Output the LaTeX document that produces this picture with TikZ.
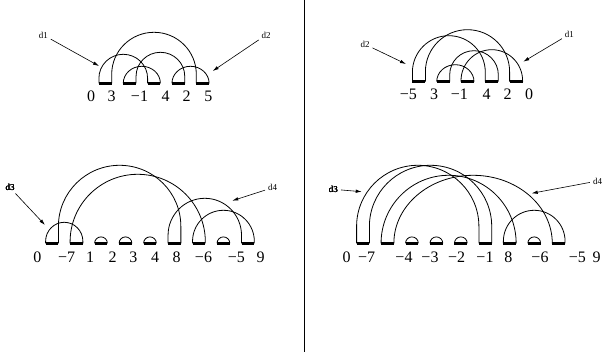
\documentclass[tikz,border=0pt]{standalone}
\usepackage{fontspec}
\setmainfont{Liberation Serif}
\usetikzlibrary{calc,arrows.meta}

\tikzset{
  blackedge/.style={line width=3.2pt},
  grayedge/.style={line width=0.8pt},
  num/.style={font=\fontsize{16}{16}\selectfont,inner sep=0pt,anchor=base},
  dlabel/.style={font=\fontsize{9}{9}\selectfont,inner sep=1pt},
  pointer/.style={line width=0.6pt,shorten <=2pt,-{Latex[length=6pt,width=3.5pt]}}
}

% gray edge from #1 to #2: straight leg of #3, then half ellipse of height #4
\newcommand\grayarc[4]{%
  \draw[grayedge] let \p1=(#1), \p2=(#2) in (#1) -- ++(0,#3)
    arc[start angle=180,end angle=0,x radius={0.5*(\x2-\x1)},y radius=#4pt] -- (#2);}

\begin{document}
\begin{tikzpicture}[x=1pt,y=1pt]
\useasboundingbox (0,0) rectangle (605,358);
\draw[line width=0.8pt] (304.5,358) -- (304.5,6);

% top left: 0 3 -1 4 2 5
\foreach \i in {1,...,5} {
  \pgfmathsetmacro\cx{105.3+24.35*(\i-1)}
  \coordinate (tl\i-l) at (\cx-6.4,274.7);
  \coordinate (tl\i-r) at (\cx+6.4,274.7);
  \draw[blackedge] (tl\i-l) -- (tl\i-r);
}
\foreach \t/\x [count=\i] in {0/91,3/111.7,−1/139.5,4/165.7,2/186.7,5/208.3}
  \node[num] (tl-n\i) at (\x,256.3) {\t};
\grayarc{tl1-l}{tl3-l}{5}{24}
\grayarc{tl1-r}{tl5-l}{9}{42}
\grayarc{tl2-l}{tl3-r}{0}{17}
\grayarc{tl2-r}{tl4-r}{7}{24}
\grayarc{tl4-l}{tl5-r}{0}{17}
\node[dlabel] (tl-d1) at (43.3,323) {d1};
\node[dlabel] (tl-d2) at (266,323) {d2};
\coordinate (tl-d1tip) at (99,292);
\coordinate (tl-d2tip) at (212.7,287);
\draw[pointer] (tl-d1) -- (tl-d1tip);
\draw[pointer] (tl-d2) -- (tl-d2tip);

% top right: -5 3 -1 4 2 0
\foreach \i in {1,...,5} {
  \pgfmathsetmacro\cx{418.9+24.3*(\i-1)}
  \coordinate (tr\i-l) at (\cx-6.5,276.3);
  \coordinate (tr\i-r) at (\cx+6.5,276.3);
  \draw[blackedge] (tr\i-l) -- (tr\i-r);
}
\foreach \t/\x [count=\i] in {−5/408.3,3/434,−1/459.3,4/486.7,2/507.7,0/529}
  \node[num] (tr-n\i) at (\x,258.7) {\t};
\grayarc{tr1-l}{tr4-l}{9.5}{36.5}
\grayarc{tr1-r}{tr5-l}{10}{42}
\grayarc{tr2-r}{tr4-r}{7}{24}
\grayarc{tr2-l}{tr3-r}{0}{17}
\grayarc{tr3-l}{tr5-r}{1}{31}
\node[dlabel] (tr-d2) at (365,313.7) {d2};
\node[dlabel] (tr-d1) at (569.3,323.7) {d1};
\coordinate (tr-d2tip) at (406,294);
\coordinate (tr-d1tip) at (523.3,296.3);
\draw[pointer] (tr-d2) -- (tr-d2tip);
\draw[pointer] (tr-d1) -- (tr-d1tip);

% bottom left: 0 -7 1 2 3 4 8 -6 -5 9
\foreach \i in {1,...,9} {
  \pgfmathsetmacro\cx{52+24.49*(\i-1)}
  \coordinate (bl\i-l) at (\cx-6.4,114.7);
  \coordinate (bl\i-r) at (\cx+6.4,114.7);
  \draw[blackedge] (bl\i-l) -- (bl\i-r);
}
\foreach \t/\x [count=\i] in {0/37.3,−7/66.7,1/90,2/112.7,3/133.3,4/155,8/176.7,−6/203.5,−5/236.3,9/260.5}
  \node[num] (bl-n\i) at (\x,95.3) {\t};
\grayarc{bl1-l}{bl2-r}{2}{19}
\grayarc{bl1-r}{bl6-r}{17}{61}
\grayarc{bl2-l}{bl7-r}{1.5}{67.5}
\grayarc{bl6-l}{bl9-l}{8}{37}
\grayarc{bl7-l}{bl9-r}{2}{31}
\foreach \i in {3,4,5,8}
  \grayarc{bl\i-l}{bl\i-r}{0}{6.4}
\node[dlabel] (bl-d3) at (10,170.3) {d3};
\node[dlabel] (bl-d4) at (272.7,170.3) {d4};
\coordinate (bl-d3tip) at (45,133);
\coordinate (bl-d4tip) at (232.3,157.3);
\draw[pointer] (bl-d3) -- (bl-d3tip);
\draw[pointer] (bl-d4) -- (bl-d4tip);

% bottom right: 0 -7 -4 -3 -2 -1 8 -6 -5 9
\foreach \i in {1,...,9} {
  \pgfmathsetmacro\cx{363+24.46*(\i-1)}
  \coordinate (br\i-l) at (\cx-6.4,114.7);
  \coordinate (br\i-r) at (\cx+6.4,114.7);
  \draw[blackedge] (br\i-l) -- (br\i-r);
}
\foreach \t/\x [count=\i] in {0/346.7,−7/366.7,−4/404,−3/430,−2/456.7,−1/485,8/508.3,−6/540,−5/577.3,9/596.7}
  \node[num] (br-n\i) at (\x,95.3) {\t};
\grayarc{br1-l}{br6-l}{17}{61}
\grayarc{br1-r}{br6-r}{17}{61}
\grayarc{br2-l}{br7-r}{0}{68}
\grayarc{br2-r}{br9-l}{0}{68}
\grayarc{br7-l}{br9-r}{2}{31}
\foreach \i in {3,4,5,8}
  \grayarc{br\i-l}{br\i-r}{0}{6.4}
\node[dlabel] (br-d3) at (333.3,168.7) {d3};
\node[dlabel] (br-d4) at (597.5,177) {d4};
\coordinate (br-d3tip) at (361.7,166.3);
\coordinate (br-d4tip) at (531.7,164.7);
\draw[pointer] (br-d3) -- (br-d3tip);
\draw[pointer] (br-d4) -- (br-d4tip);
\end{tikzpicture}
\end{document}
